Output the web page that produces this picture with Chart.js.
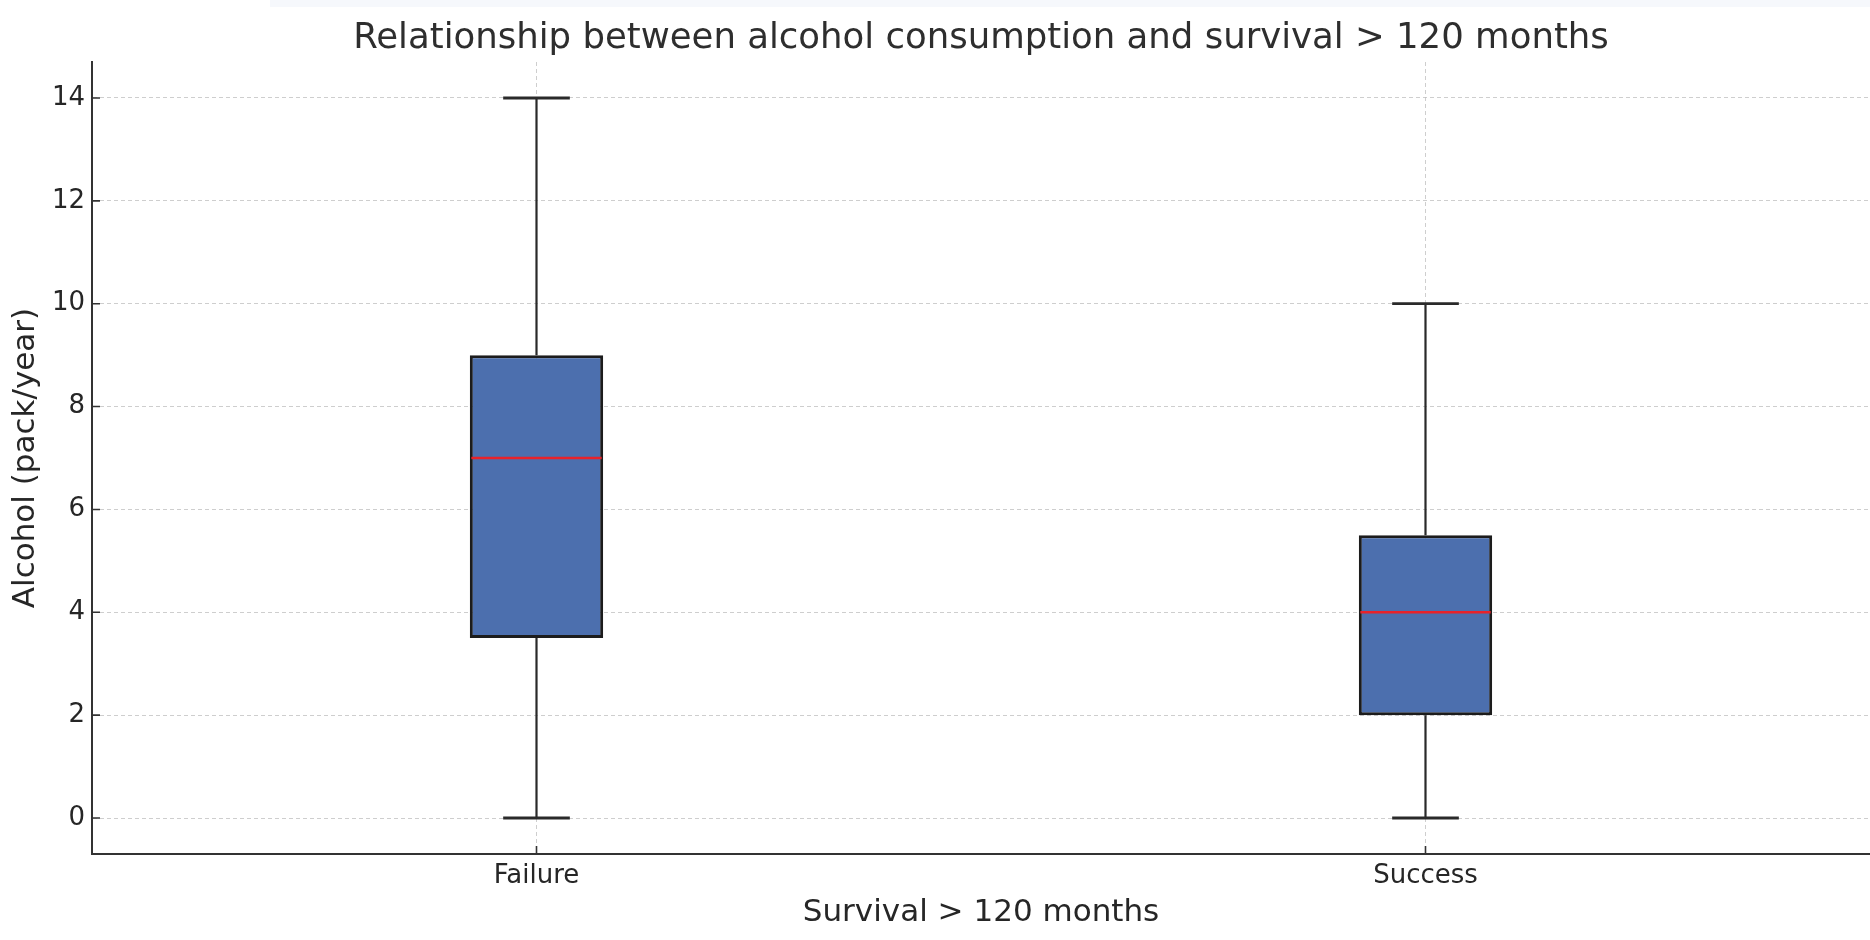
<!DOCTYPE html>
<html>
<head>
<meta charset="utf-8">
<title>Alcohol consumption and survival</title>
<script src="https://cdn.jsdelivr.net/npm/chart.js@4/dist/chart.umd.min.js"></script>
<style>
  html, body { margin: 0; padding: 0; background: #ffffff; }
  #wrap { position: relative; width: 1870px; height: 940px; }
  #topband { position: absolute; left: 270px; top: 0; width: 1600px; height: 7px; background: #f6f8fc; }
  canvas { position: absolute; left: 0; top: 0; }
</style>
</head>
<body>
<div id="wrap">
  <div id="topband"></div>
  <canvas id="chart" width="1870" height="940"></canvas>
</div>
<script>
// Five-number summaries per survival group
const categories = ['Failure', 'Success'];
const whiskerLow = [0, 0];
const q1 = [3.5, 2];
const median = [7, 4];
const q3 = [9, 5.5];
const whiskerHigh = [14, 10];

const FONT = "'DejaVu Sans', sans-serif";
const TEXT = '#262626';
const SPINE = '#333333';
const GRID = 'rgba(190,190,190,0.75)';

// Whiskers, caps, medians and inward tick marks drawn from the scales
const boxExtras = {
  id: 'boxExtras',
  beforeDatasetsDraw(chart) {
    const {ctx, scales: {x, y}} = chart;
    const meta = chart.getDatasetMeta(0);
    ctx.save();
    ctx.strokeStyle = '#2a2a2a';
    ctx.lineCap = 'butt';
    categories.forEach((c, i) => {
      const cx = x.getPixelForValue(i);
      const half = meta.data[i].width / 4;
      ctx.lineWidth = 2.2;
      ctx.beginPath();
      ctx.moveTo(cx, y.getPixelForValue(whiskerLow[i]));
      ctx.lineTo(cx, y.getPixelForValue(q1[i]));
      ctx.moveTo(cx, y.getPixelForValue(q3[i]));
      ctx.lineTo(cx, y.getPixelForValue(whiskerHigh[i]));
      ctx.stroke();
      ctx.lineWidth = 2.8;
      ctx.beginPath();
      [whiskerLow[i], whiskerHigh[i]].forEach(v => {
        const py = y.getPixelForValue(v);
        ctx.moveTo(cx - half, py);
        ctx.lineTo(cx + half, py);
      });
      ctx.stroke();
    });
    ctx.restore();
  },
  afterDatasetsDraw(chart) {
    const {ctx, scales: {x, y}} = chart;
    const meta = chart.getDatasetMeta(0);
    ctx.save();
    ctx.strokeStyle = '#e8222a';
    ctx.lineWidth = 2.6;
    categories.forEach((c, i) => {
      const bar = meta.data[i];
      const py = y.getPixelForValue(median[i]);
      ctx.beginPath();
      ctx.moveTo(bar.x - bar.width / 2 + 1.5, py);
      ctx.lineTo(bar.x + bar.width / 2 - 1.5, py);
      ctx.stroke();
    });
    // inward tick marks
    ctx.strokeStyle = SPINE;
    ctx.lineWidth = 1.6;
    ctx.beginPath();
    y.ticks.forEach((t, i) => {
      const py = y.getPixelForTick(i);
      ctx.moveTo(y.right, py);
      ctx.lineTo(y.right + 8, py);
    });
    x.ticks.forEach((t, i) => {
      const px = x.getPixelForTick(i);
      ctx.moveTo(px, x.top);
      ctx.lineTo(px, x.top - 8);
    });
    ctx.stroke();
    ctx.restore();
  }
};

new Chart(document.getElementById('chart'), {
  type: 'bar',
  data: {
    labels: categories,
    datasets: [{
      label: 'Alcohol (pack/year)',
      data: categories.map((c, i) => [q1[i], q3[i]]),
      backgroundColor: '#4C6FAE',
      borderColor: '#1c1c1c',
      borderWidth: 3,
      borderSkipped: false,
      barPercentage: 0.15,
      categoryPercentage: 1.0
    }]
  },
  options: {
    responsive: false,
    devicePixelRatio: 1,
    animation: false,
    layout: { padding: 0 },
    plugins: {
      legend: { display: false },
      tooltip: { enabled: false },
      title: {
        display: true,
        fullSize: false,
        text: 'Relationship between alcohol consumption and survival > 120 months',
        color: '#2e2e2e',
        font: { family: FONT, size: 35.5, weight: 'normal', lineHeight: 1.2 },
        padding: { top: 17, bottom: 2.4 }
      }
    },
    scales: {
      x: {
        type: 'category',
        offset: true,
        grid: { display: true, offset: false, drawTicks: false, color: GRID, lineWidth: 1 },
        border: { display: true, color: SPINE, width: 2, dash: [4, 3] },
        ticks: { color: TEXT, font: { family: FONT, size: 26 }, padding: 7, maxRotation: 0 },
        title: {
          display: true,
          text: 'Survival > 120 months',
          color: TEXT,
          font: { family: FONT, size: 31, lineHeight: 1.2 },
          padding: { top: 0, bottom: 8 }
        },
        afterFit(scale) { scale.height = 86; }
      },
      y: {
        type: 'linear',
        min: -0.7,
        max: 14.7,
        grid: { display: true, drawTicks: false, color: GRID, lineWidth: 1 },
        border: { display: true, color: SPINE, width: 2, dash: [4, 3] },
        ticks: { stepSize: 2, includeBounds: false, color: TEXT, font: { family: FONT, size: 26 }, padding: 7 },
        title: {
          display: true,
          text: 'Alcohol (pack/year)',
          color: TEXT,
          font: { family: FONT, size: 31, lineHeight: 1.2 },
          padding: { top: 7, bottom: 0 }
        },
        afterFit(scale) { scale.width = 92; }
      }
    }
  },
  plugins: [boxExtras]
});
</script>
</body>
</html>
